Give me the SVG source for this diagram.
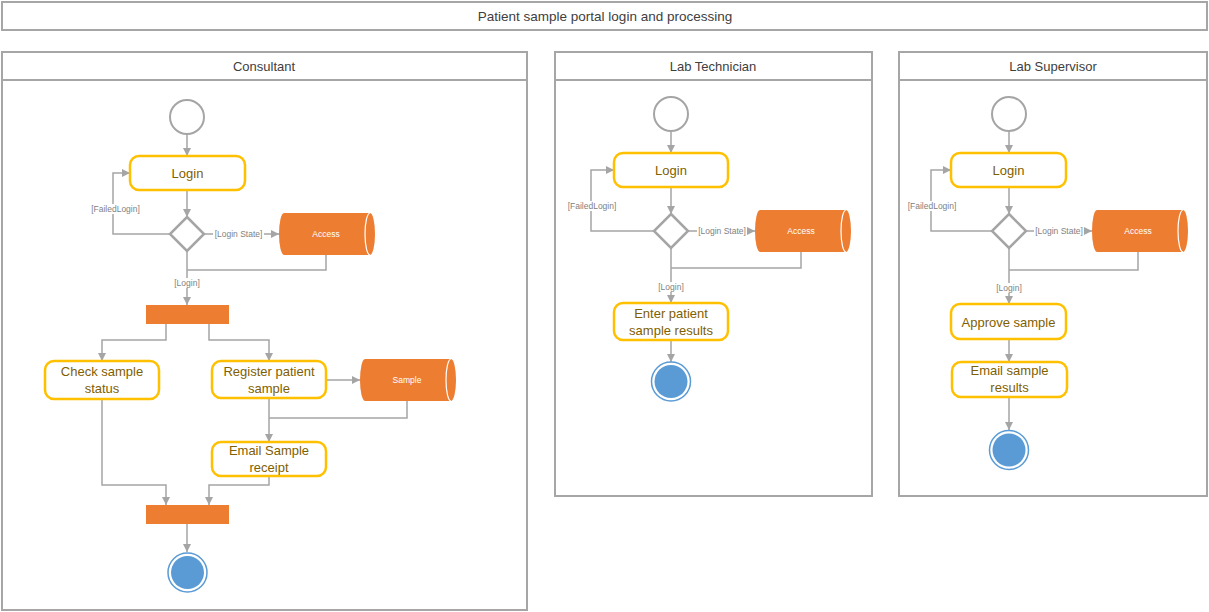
<svg xmlns="http://www.w3.org/2000/svg" xmlns:xlink="http://www.w3.org/1999/xlink" width="1209" height="612" viewBox="0 0 1209 612">
<style>
.lane{fill:#fff;stroke:#A6A6A6;stroke-width:2}
.hdr{font-family:"Liberation Sans",Arial,sans-serif;font-size:13px;fill:#404040;text-anchor:middle;dominant-baseline:central}
.act{fill:#fff;stroke:#FFC000;stroke-width:2.5}
.at{font-family:"Liberation Sans",Arial,sans-serif;font-size:13px;fill:#7F6000;text-anchor:middle;dominant-baseline:central}
.start{fill:#fff;stroke:#A5A5A5;stroke-width:2}
.dia{fill:#fff;stroke:#A5A5A5;stroke-width:2.5}
.bar{fill:#ED7D31}
.endo{fill:#fff;stroke:#5B9BD5;stroke-width:1.5}
.endi{fill:#5B9BD5}
.cn{fill:none;stroke:#A5A5A5;stroke-width:1.5}
.arr{marker-end:url(#ah)}
.lb{font-family:"Liberation Sans",Arial,sans-serif;font-size:8.5px;fill:#7F7F7F;text-anchor:middle;dominant-baseline:central}
.lbg{fill:#fff}
.ct{font-family:"Liberation Sans",Arial,sans-serif;font-size:8.5px;fill:#fff;text-anchor:middle;dominant-baseline:central}
</style>
<defs>
<marker id="ah" markerUnits="userSpaceOnUse" markerWidth="8" markerHeight="8" refX="8" refY="4" orient="auto">
<path d="M0,0 L8,4 L0,8 Z" fill="#A5A5A5"/>
</marker>
<g id="cyl">
<path d="M5,0 H91 A5,21 0 0 1 91,42 H5 A5,21 0 0 1 5,0 Z" fill="#ED7D31"/>
<path d="M91,0 A5,21 0 0 0 91,42" fill="none" stroke="#fff" stroke-width="1.2"/>
</g>
</defs>
<rect width="1209" height="612" fill="#fff"/>

<g id="title">
<rect x="2" y="2" width="1205" height="28" class="lane"/>
<text x="605" y="16" class="hdr" style="font-size:13.5px">Patient sample portal login and processing</text>
</g>

<g id="lane-consultant">
<rect x="2" y="52" width="525" height="558" class="lane"/>
<line x1="2" y1="80" x2="527" y2="80" stroke="#A6A6A6" stroke-width="2"/>
<text x="264" y="66" class="hdr">Consultant</text>
</g>
<g id="lane-technician">
<rect x="555" y="52" width="317" height="444" class="lane"/>
<line x1="555" y1="80" x2="872" y2="80" stroke="#A6A6A6" stroke-width="2"/>
<text x="713" y="66" class="hdr">Lab Technician</text>
</g>
<g id="lane-supervisor">
<rect x="899" y="52" width="308" height="444" class="lane"/>
<line x1="899" y1="80" x2="1207" y2="80" stroke="#A6A6A6" stroke-width="2"/>
<text x="1053" y="66" class="hdr">Lab Supervisor</text>
</g>

<g id="connectors">
<!-- Consultant -->
<path class="cn arr" d="M187,134 V156"/>
<path class="cn arr" d="M187,190 V217"/>
<path class="cn arr" d="M170,234 H113 V173 H130"/>
<path class="cn arr" d="M204,234 H279"/>
<path class="cn" d="M326,255 V270 H187"/>
<path class="cn arr" d="M187,251 V305"/>
<path class="cn arr" d="M166,324 V340 H102 V361"/>
<path class="cn arr" d="M209,324 V340 H269 V361"/>
<path class="cn arr" d="M326,380 H360"/>
<path class="cn" d="M407,400 V418 H269"/>
<path class="cn arr" d="M269,398 V442"/>
<path class="cn arr" d="M102,399 V485 H166 V505"/>
<path class="cn arr" d="M269,476 V485 H209 V505"/>
<path class="cn arr" d="M187,524 V552"/>
<!-- Technician -->
<path class="cn arr" d="M671,131 V153"/>
<path class="cn arr" d="M671,187 V214"/>
<path class="cn arr" d="M654,231 H591 V170 H614"/>
<path class="cn arr" d="M688,231 H755"/>
<path class="cn" d="M801,252 V268 H671"/>
<path class="cn arr" d="M671,248 V303"/>
<path class="cn arr" d="M671,340 V362"/>
<!-- Supervisor -->
<path class="cn arr" d="M1009,131 V153"/>
<path class="cn arr" d="M1009,187 V214"/>
<path class="cn arr" d="M992,231 H931 V170 H951"/>
<path class="cn arr" d="M1026,231 H1092"/>
<path class="cn" d="M1138,252 V270 H1009"/>
<path class="cn arr" d="M1009,248 V304"/>
<path class="cn arr" d="M1009,339 V362"/>
<path class="cn arr" d="M1009,397 V430"/>
<!-- labels -->
<rect class="lbg" x="90" y="204" width="51" height="10"/><text class="lb" x="115.5" y="209">[FailedLogin]</text>
<rect class="lbg" x="213" y="229" width="51" height="10"/><text class="lb" x="238.5" y="234">[Login State]</text>
<rect class="lbg" x="173" y="278" width="28" height="10"/><text class="lb" x="187" y="283">[Login]</text>
<rect class="lbg" x="566" y="201" width="52" height="10"/><text class="lb" x="592" y="206">[FailedLogin]</text>
<rect class="lbg" x="697" y="226" width="50" height="10"/><text class="lb" x="722" y="231">[Login State]</text>
<rect class="lbg" x="657" y="282" width="28" height="10"/><text class="lb" x="671" y="287">[Login]</text>
<rect class="lbg" x="906" y="201" width="52" height="10"/><text class="lb" x="932" y="206">[FailedLogin]</text>
<rect class="lbg" x="1034" y="226" width="50" height="10"/><text class="lb" x="1059" y="231">[Login State]</text>
<rect class="lbg" x="995" y="283" width="28" height="10"/><text class="lb" x="1009" y="288">[Login]</text>
</g>

<!-- Consultant nodes -->
<g id="c-start"><circle cx="187" cy="117" r="17" class="start"/></g>
<g id="c-login"><rect x="130" y="156" width="115" height="34" rx="9" class="act"/><text x="187.5" y="173" class="at">Login</text></g>
<g id="c-decision"><path d="M187,217 L204,234 L187,251 L170,234 Z" class="dia"/></g>
<g id="c-access"><use xlink:href="#cyl" x="279" y="213"/><text x="326" y="234" class="ct">Access</text></g>
<g id="c-fork"><rect x="146" y="305" width="83" height="19" class="bar"/></g>
<g id="c-check"><rect x="45" y="361" width="114" height="38" rx="9" class="act"/><text x="102" y="371" class="at">Check sample</text><text x="102" y="388" class="at">status</text></g>
<g id="c-register"><rect x="212" y="361" width="114" height="37" rx="9" class="act"/><text x="269" y="371" class="at">Register patient</text><text x="269" y="388.5" class="at">sample</text></g>
<g id="c-sample"><use xlink:href="#cyl" x="360" y="359"/><text x="407" y="380" class="ct">Sample</text></g>
<g id="c-email"><rect x="212" y="442" width="114" height="34" rx="9" class="act"/><text x="269" y="450.5" class="at">Email Sample</text><text x="269" y="467.5" class="at">receipt</text></g>
<g id="c-join"><rect x="146" y="505" width="83" height="19" class="bar"/></g>
<g id="c-end"><circle cx="187.5" cy="572.5" r="19.5" class="endo"/><circle cx="187.5" cy="572.5" r="16.5" class="endi"/></g>

<!-- Technician nodes -->
<g id="t-start"><circle cx="671" cy="114" r="17" class="start"/></g>
<g id="t-login"><rect x="614" y="153" width="114" height="34" rx="9" class="act"/><text x="671" y="170" class="at">Login</text></g>
<g id="t-decision"><path d="M671,214 L688,231 L671,248 L654,231 Z" class="dia"/></g>
<g id="t-access"><use xlink:href="#cyl" x="755" y="210"/><text x="801" y="231" class="ct">Access</text></g>
<g id="t-enter"><rect x="614" y="303" width="114" height="37" rx="9" class="act"/><text x="671" y="313" class="at">Enter patient</text><text x="671" y="330" class="at">sample results</text></g>
<g id="t-end"><circle cx="671" cy="381.5" r="19.5" class="endo"/><circle cx="671" cy="381.5" r="16.5" class="endi"/></g>

<!-- Supervisor nodes -->
<g id="s-start"><circle cx="1009" cy="114" r="17" class="start"/></g>
<g id="s-login"><rect x="951" y="153" width="115" height="34" rx="9" class="act"/><text x="1008.5" y="170" class="at">Login</text></g>
<g id="s-decision"><path d="M1009,214 L1026,231 L1009,248 L992,231 Z" class="dia"/></g>
<g id="s-access"><use xlink:href="#cyl" x="1092" y="210"/><text x="1138" y="231" class="ct">Access</text></g>
<g id="s-approve"><rect x="951" y="304" width="115" height="35" rx="9" class="act"/><text x="1008.5" y="322" class="at">Approve sample</text></g>
<g id="s-email"><rect x="952" y="362" width="115" height="35" rx="9" class="act"/><text x="1009.5" y="370.5" class="at">Email sample</text><text x="1009.5" y="387.5" class="at">results</text></g>
<g id="s-end"><circle cx="1009" cy="450" r="19.5" class="endo"/><circle cx="1009" cy="450" r="16.5" class="endi"/></g>
</svg>
